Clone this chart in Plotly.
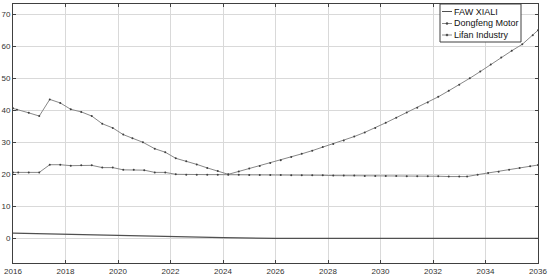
import plotly.graph_objects as go

# ---- data ----
faw_x = [2016, 2018, 2020, 2022, 2024, 2026, 2028, 2030, 2032, 2034, 2036]
faw_y = [1.65, 1.25, 0.85, 0.5, 0.2, 0.0, 0.0, 0.0, 0.0, 0.0, 0.0]

dongfeng_x = [2016.0, 2016.15, 2016.6, 2017.0, 2017.4, 2017.8, 2018.2, 2018.6, 2019.0, 2019.4,
              2019.8, 2020.2, 2020.55, 2020.95, 2021.4, 2021.8, 2022.2, 2022.6, 2023.0, 2023.4,
              2023.8, 2024.2, 2024.6, 2025.0, 2025.4, 2025.8, 2026.2, 2026.6, 2027.0, 2027.4,
              2027.8, 2028.2, 2028.6, 2029.0, 2029.4, 2029.8, 2030.2, 2030.6, 2031.0, 2031.4,
              2031.8, 2032.2, 2032.6, 2033.0, 2033.4, 2033.8, 2034.2, 2034.6, 2035.0, 2035.4,
              2035.8, 2036.0]
dongfeng_y = [40.6, 40.2, 39.2, 38.2, 43.4, 42.3, 40.3, 39.5, 38.2, 35.8,
              34.5, 32.4, 31.3, 30.0, 28.0, 26.9, 25.0, 24.1, 23.1, 22.0,
              21.0, 20.0, 20.9, 21.8, 22.6, 23.5, 24.4, 25.4, 26.4, 27.4,
              28.5, 29.5, 30.6, 31.8, 33.1, 34.5, 36.1, 37.7, 39.3, 40.8,
              42.4, 44.2, 46.1, 48.0, 50.0, 52.1, 54.3, 56.5, 58.6, 60.6,
              63.4, 65.0]

lifan_x = [2016.0, 2016.2, 2016.6, 2017.0, 2017.4, 2017.8, 2018.2, 2018.6, 2019.0, 2019.4,
           2019.8, 2020.2, 2020.6, 2021.0, 2021.4, 2021.8, 2022.2, 2022.6, 2023.0, 2023.4,
           2023.8, 2024.2, 2024.6, 2025.0, 2025.4, 2025.8, 2026.2, 2026.6, 2027.0, 2027.4,
           2027.8, 2028.2, 2028.6, 2029.0, 2029.4, 2029.8, 2030.2, 2030.6, 2031.0, 2031.4,
           2031.8, 2032.2, 2032.6, 2033.0, 2033.3, 2033.7, 2034.1, 2034.5, 2034.9, 2035.3,
           2035.7, 2036.0]
lifan_y = [20.6, 20.6, 20.6, 20.6, 23.0, 23.0, 22.7, 22.8, 22.8, 22.1,
           22.1, 21.4, 21.4, 21.3, 20.6, 20.6, 20.0, 19.9, 19.9, 19.9,
           19.9, 19.9, 19.9, 19.8, 19.8, 19.8, 19.8, 19.7, 19.7, 19.7,
           19.7, 19.6, 19.6, 19.6, 19.5, 19.5, 19.5, 19.5, 19.4, 19.4,
           19.4, 19.4, 19.3, 19.3, 19.3, 19.9, 20.4, 20.8, 21.4, 22.0,
           22.5, 22.9]

series_names = ["FAW XIALI", "Dongfeng Motor", "Lifan Industry"]
x_ticks = [2016, 2018, 2020, 2022, 2024, 2026, 2028, 2030, 2032, 2034, 2036]
y_ticks = [0, 10, 20, 30, 40, 50, 60, 70]

FONT = "Liberation Sans, Arial, sans-serif"
LINE_DARK = "#505050"
LINE_GRAY = "#888888"
MARK = "#404040"

fig = go.Figure()
fig.add_trace(go.Scatter(x=faw_x, y=faw_y, mode="lines", name=series_names[0],
                         line=dict(color=LINE_DARK, width=1.2)))
fig.add_trace(go.Scatter(x=dongfeng_x, y=dongfeng_y, mode="lines+markers", name=series_names[1],
                         line=dict(color=LINE_GRAY, width=1),
                         marker=dict(color=MARK, size=2, symbol="circle")))
fig.add_trace(go.Scatter(x=lifan_x, y=lifan_y, mode="lines+markers", name=series_names[2],
                         line=dict(color=LINE_GRAY, width=1),
                         marker=dict(color=MARK, size=2, symbol="circle")))

axis_common = dict(showgrid=True, gridcolor="#d9d9d9", gridwidth=1,
                   showline=True, linecolor="#404040", linewidth=1, mirror="ticks",
                   ticks="inside", ticklen=3, tickcolor="#404040", automargin=False,
                   zeroline=False, tickfont=dict(family=FONT, size=8, color="#333333"))

fig.update_xaxes(range=[2016, 2036], tickvals=x_ticks, ticktext=[str(v) for v in x_ticks], **axis_common)
fig.update_yaxes(range=[-7.7, 73.2], tickvals=y_ticks, ticktext=[str(v) for v in y_ticks], **axis_common)

# ---- compact legend (MATLAB-like) built from shapes and annotations ----
W, H = 550, 278
L, R, T, B = 13, 12, 4, 15
pw, ph = W - L - R, H - T - B

def px(xp):
    return (xp - L) / pw

def py(yp):
    return (H - B - yp) / ph

shapes = [dict(type="rect", xref="paper", yref="paper",
               x0=px(440), x1=px(521), y0=py(42), y1=py(4),
               line=dict(color="#404040", width=1), fillcolor="white", layer="above")]
annotations = []
row_y = [11.5, 23.5, 35.0]
colors = [LINE_DARK, LINE_GRAY, LINE_GRAY]
for i, name in enumerate(series_names):
    yy = py(row_y[i])
    shapes.append(dict(type="line", xref="paper", yref="paper",
                       x0=px(442), x1=px(452), y0=yy, y1=yy,
                       line=dict(color=colors[i], width=1), layer="above"))
    if i > 0:
        shapes.append(dict(type="circle", xref="paper", yref="paper",
                           x0=px(446), x1=px(448), y0=py(row_y[i] + 1.0), y1=py(row_y[i] - 1.0),
                           line=dict(color=MARK, width=0.5), fillcolor=MARK, layer="above"))
    annotations.append(dict(xref="paper", yref="paper", x=px(451.5), y=yy,
                            xanchor="left", yanchor="middle", showarrow=False,
                            text=name, font=dict(family=FONT, size=9, color="#111111")))

fig.update_layout(
    width=W, height=H,
    margin=dict(l=L, r=R, t=T, b=B),
    plot_bgcolor="white", paper_bgcolor="white",
    font=dict(family=FONT, size=9, color="#222222"),
    showlegend=False,
    shapes=shapes,
    annotations=annotations,
)

fig.write_html("out.html",
               config={"displayModeBar": False},
               post_script="document.body.style.margin='0';document.body.style.padding='0';")
